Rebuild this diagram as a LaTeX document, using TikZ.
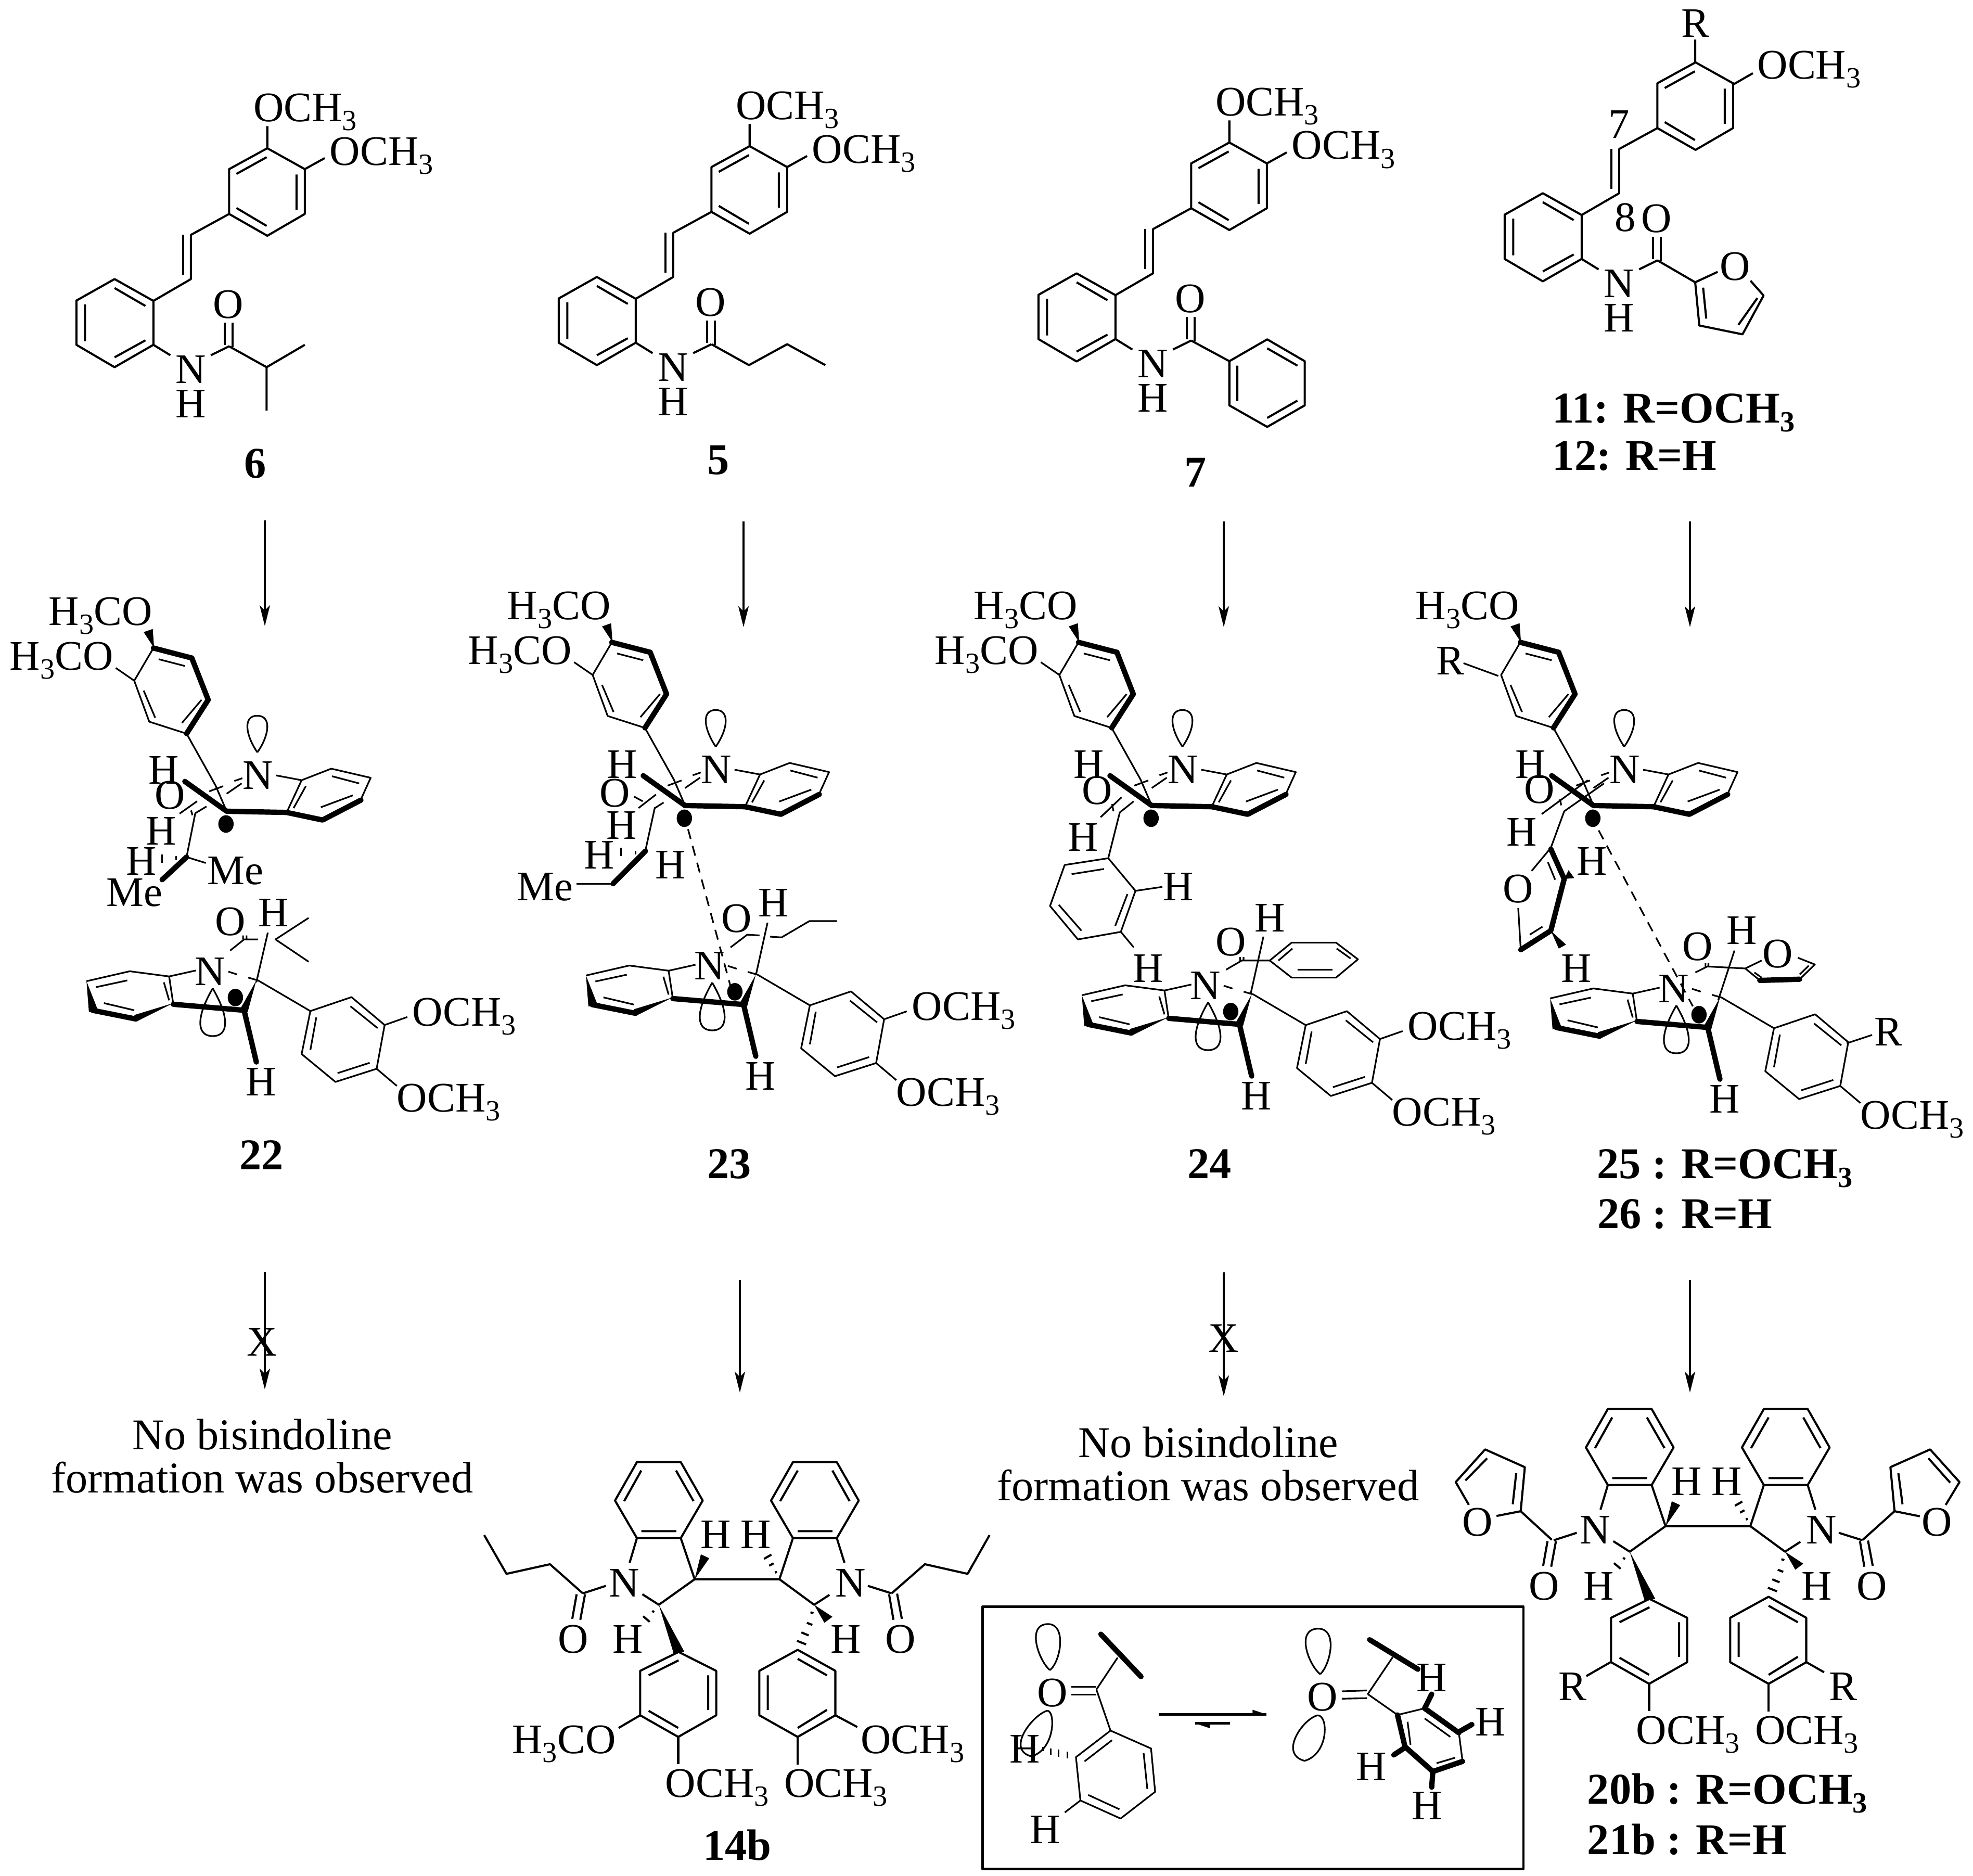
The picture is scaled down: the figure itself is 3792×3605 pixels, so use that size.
\documentclass[tikz,border=0pt]{standalone}
\usepackage{fontspec}
\setmainfont{Liberation Serif}
\usetikzlibrary{arrows.meta}
\newcommand{\three}{\raisebox{-.17cm}{\fontsize{16}{16}\selectfont 3}}
\tikzstyle{every node}=[font=\fontsize{23}{26}\selectfont,inner sep=0pt]
\tikzset{
  za/.style={x=.006378cm,y=-.005740cm},
  zb/.style={x=.006698cm,y=-.007651cm},
  zc/.style={x=.006964cm,y=-.007651cm},
  zd/.style={x=.007018cm,y=-.005770cm},
  ze/.style={x=.007143cm,y=-.003540cm},
  zf/.style={x=.006645cm,y=-.006090cm},
  zg/.style={x=.006645cm,y=-.006061cm},
  thin bond/.style={line width=.9pt},
  bold bond/.style={line width=2.9pt,line cap=round},
  rxn/.style={line width=.95pt,-{Stealth[length=.4cm,width=.2cm,inset=.1cm]}},
  txt/.style={anchor=base west},
  txe/.style={anchor=base east},
  lbl/.style={anchor=base west,font=\fontsize{24}{28}\bfseries\selectfont},
  lbc/.style={anchor=base,font=\fontsize{24}{28}\bfseries\selectfont},
  plain/.style={anchor=base,font=\fontsize{24}{28}\selectfont},
  long dash/.style={thin bond,dash pattern=on 5.5pt off 4pt}
}
% open form: both aryl rings, vinyl, NH and C=O
\newcommand{\stilbene}{
  \draw (805,322) -- (918,392) -- (918,542) -- (805,615) -- (690,542) -- (690,392) -- cycle;
  \draw (712,408) -- (803,352) (893,410) -- (893,528) (712,522) -- (803,582);
  \draw (690,542) -- (575,612) -- (575,760) -- (462,833);
  \draw (551,612) -- (551,745);
  \draw (462,833) -- (345,760) -- (230,832) -- (230,980) -- (345,1055) -- (462,980) -- cycle;
  \draw (345,790) -- (438,850) (256,845) -- (256,968) (345,1022) -- (438,965);
  \node (amN) at (575,1062) {N};
  \node (amH) at (575,1178) {H};
  \node (amO) at (688,845) {O};
  \draw (462,980) -- (513,1015) (635,1015) -- (690,985);
  \draw (677,905) -- (677,980) (700,905) -- (700,987);
}
\newcommand{\dimethoxy}{
  \draw (805,322) -- (805,248) (918,392) -- (978,355);
  \node[txt] (omeA) at (760,232) {OCH\three};
  \node[txt] (omeB) at (990,378) {OCH\three};
}
% upper half of the radical pair
\newcommand{\upperhalf}{
  \fill (442,190) -- (412,150) -- (438,142) -- cycle;
  \node[txe] (upA) at (440,133) {H\three CO};
  \draw[thin bond] (440,190) -- (385,272) -- (428,375) -- (535,405);
  \draw[bold bond] (440,190) -- (550,215) -- (597,320) -- (535,405);
  \draw[thin bond] (455,218) -- (530,235) (578,320) -- (522,378) (412,297) -- (445,365);
  \draw[thin bond] (535,405) -- (618,535) -- (650,600);
  \draw[thin bond] (738,452) .. controls (705,410) and (695,360) .. (738,360) .. controls (780,360) and (772,410) .. (738,452);
  \node (upN) at (740,510) {N};
  \node (upH) at (470,497) {H};
  \draw[thin bond] (792,510) -- (865,522) -- (950,493) -- (1063,516) -- (1035,570);
  \draw[thin bond] (865,522) -- (822,603);
  \draw[bold bond] (530,525) -- (650,600) -- (822,603) -- (925,622) -- (1035,572);
  \draw[thin bond] (877,537) -- (842,592) (952,512) -- (1030,530) (920,590) -- (1012,560);
  \draw[thin bond] (695,517) -- (672,524) (640,537) -- (600,550) (693,530) -- (650,556);
  \fill (648,632) circle[radius=22];
}
% lower half of the radical pair
\newcommand{\lowerhalf}{
  \node (loN) at (603,1003) {N};
  \draw[thin bond] (562,1000) -- (485,1015) -- (372,1002) -- (248,1027);
  \draw[thin bond] (485,1015) -- (497,1085);
  \fill (248,1027) -- (255,1105) -- (280,1098) -- cycle;
  \draw[bold bond] (265,1100) -- (390,1122);
  \fill (497,1082) -- (385,1112) -- (392,1128) -- cycle;
  \draw[bold bond] (497,1085) -- (700,1100) -- (735,1230);
  \draw[thin bond] (470,1030) -- (485,1075) (275,1042) -- (365,1025) (298,1082) -- (385,1100);
  \fill (735,1025) -- (690,1095) -- (710,1105) -- cycle;
  \draw[thin bond] (655,1003) -- (680,1010) (712,1018) -- (740,1025) -- (890,1102);
  \draw[thin bond] (890,1102) -- (1008,1067) -- (1103,1137) -- (1080,1247) -- (962,1280) -- (865,1210) -- cycle;
  \draw[thin bond] (907,1118) -- (890,1200) (1005,1090) -- (1083,1145) (1060,1232) -- (968,1258);
  \draw[thin bond] (610,1045) .. controls (560,1120) and (565,1165) .. (610,1165) .. controls (655,1165) and (660,1120) .. (610,1045);
  \fill (675,1068) circle[radius=22];
  \node (loH) at (748,1280) {H};
  \draw[thin bond] (1080,1247) -- (1138,1290);
  \node[txt] (loB) at (1135,1355) {OCH\three};
}
\newcommand{\lowerome}{
  \draw[thin bond] (385,272) -- (332,240);
  \node[txe] (upB) at (328,245) {H\three CO};
}
\newcommand{\upperome}{
  \draw[thin bond] (1103,1137) -- (1168,1117);
  \node[txt] (loA) at (1180,1140) {OCH\three};
}
% bisindoline skeleton
\newcommand{\bisindoline}{
  \draw (490,190) -- (610,190) -- (670,318) -- (610,443) -- (490,443) -- (430,318) -- cycle;
  \draw (502,218) -- (455,320) (597,218) -- (645,320) (502,420) -- (598,420);
  \draw (917,190) -- (1037,190) -- (1097,318) -- (1037,443) -- (917,443) -- (857,318) -- cycle;
  \draw (930,218) -- (882,320) (1025,218) -- (1072,320) (930,420) -- (1025,420);
  \draw (610,443) -- (648,580) -- (880,580) -- (917,443);
  \draw (490,443) -- (470,525) (1037,443) -- (1058,525);
  \draw (505,630) -- (550,665) -- (648,580) (880,580) -- (975,665) -- (1017,632);
  \node (biNa) at (455,592) {N};
  \node (biNb) at (1075,592) {N};
  \node (biHa) at (706,432) {H};
  \node (biHb) at (815,432) {H};
  \node (biHc) at (465,780) {H};
  \node (biHd) at (1062,780) {H};
  \fill (648,580) -- (665,497) -- (688,510) -- cycle;
  \fill (550,665) -- (590,825) -- (620,822) -- cycle;
  \fill (975,665) -- (1003,725) -- (1025,705) -- cycle;
  \draw (868,558) -- (873,555) (852,535) -- (864,527) (838,512) -- (858,498);
  \draw (532,685) -- (537,690) (507,703) -- (525,722);
  \draw (965,690) -- (973,693) (955,725) -- (970,732) (940,757) -- (960,767) (928,785) -- (953,797);
  \draw (604,822) -- (707,885) -- (707,1033) -- (603,1105) -- (499,1033) -- (499,885) -- cycle;
  \draw (604,850) -- (522,900) (685,900) -- (685,1015) (603,1075) -- (522,1018);
  \draw (930,815) -- (1033,885) -- (1033,1033) -- (930,1105) -- (825,1033) -- (825,885) -- cycle;
  \draw (930,845) -- (1010,900) (848,900) -- (848,1015) (930,1075) -- (1010,1015);
  \draw (603,1105) -- (603,1195) (930,1105) -- (930,1197);
  \node[txt] (biOa) at (565,1305) {OCH\three};
  \node[txt] (biOb) at (890,1305) {OCH\three};
  \draw (405,602) -- (342,627) (1122,602) -- (1187,627);
  \draw (325,630) -- (313,712) (348,630) -- (335,715) (1180,630) -- (1192,715) (1202,628) -- (1215,712);
  \node (biOc) at (315,780) {O};
  \node (biOd) at (1212,780) {O};
}
\begin{document}
\begin{tikzpicture}[x=.01cm,y=-.01cm,line width=1.15pt,line join=round]
\useasboundingbox (0,0) rectangle (3792,3605);

% reaction arrows
\foreach \n/\x/\ya/\yb in {a/509/1000/1203,b/1429/1002/1205,c/2352/1002/1205,d/3248/1002/1205,
    e/509/2444/2670,f/1422/2460/2676,g/2352/2445/2683,h/3248/2460/2676} {
  \coordinate (s\n) at (\x,\ya);
  \coordinate (t\n) at (\x,\yb);
  \draw[rxn] (s\n) -- (t\n);
}
\node (xa) at (504,2579) {X};
\node (xb) at (2352,2572) {X};
\node[plain] (noa) at (504,2785) {No bisindoline};
\node[plain] (nob) at (504,2868) {formation was observed};
\node[plain] (noc) at (2322,2800) {No bisindoline};
\node[plain] (nod) at (2322,2883) {formation was observed};

% compound 6
\begin{scope}[shift={(0,100)},za]
  \stilbene \dimethoxy
  \draw (690,985) -- (803,1055) -- (918,980) (803,1055) -- (803,1200);
  \node[lbc] (six) at (768,1425) {6};
\end{scope}
% compound 5
\begin{scope}[shift={(927,96)},za]
  \stilbene \dimethoxy
  \draw (690,985) -- (803,1055) -- (918,985) -- (1033,1055);
  \node[lbc] (five) at (711,1420) {5};
\end{scope}
% compound 7
\begin{scope}[shift={(1849,89)},za]
  \stilbene \dimethoxy
  \draw (690,985) -- (805,1054);
  \draw (805,1054) -- (919,981) -- (1032,1054) -- (1032,1202) -- (919,1274) -- (805,1202) -- cycle;
  \draw (919,1011) -- (1010,1069) (829,1069) -- (829,1187) (919,1244) -- (1010,1186);
  \node[lbc] (seven) at (703,1475) {7};
\end{scope}
% compound 11, 12
\begin{scope}[shift={(2745,-65)},za]
  \stilbene
\end{scope}
\begin{scope}[shift={(2750,0)},zg]
  \node (rr) at (765,75) {R};
  \draw (765,125) -- (765,198) (875,268) -- (932,232);
  \node[txt] (omeC) at (942,250) {OCH\three};
  \node (sv) at (545,395) {7};
  \node (ei) at (562,690) {8};
  \node (fuO) at (880,845) {O};
  \draw (655,825) -- (765,895) -- (830,862) (925,890) -- (963,937) -- (902,1060) -- (777,1032) -- (765,895);
  \draw (788,912) -- (797,1010) (945,945) -- (890,1030);
  \node[lbl] (eleven) at (349,1340) {11: R=OCH\three};
  \node[lbl] (twelve) at (349,1490) {12: R=H};
\end{scope}

% compound 22
\begin{scope}[shift={(0,1100)},zb]
  \upperhalf \lowerome \lowerhalf \upperome
  \node (o1) at (487,560) {O};
  \node (h1) at (462,650) {H};
  \node (h2) at (405,725) {H};
  \node (me1) at (675,750) {Me};
  \node (me2) at (385,805) {Me};
  \draw[thin bond] (515,606) -- (565,575) (548,598) -- (552,610) (560,605) -- (592,588);
  \draw[thin bond] (560,605) -- (535,715) -- (590,730);
  \draw[bold bond] (535,715) -- (465,772);
  \draw[thin bond] (465,708) -- (465,730) (505,712) -- (505,722);
  \node (o2) at (660,878) {O};
  \node (h3) at (785,855) {H};
  \draw[thin bond] (660,950) -- (700,922) -- (740,922) (697,912) -- (697,922) (707,912) -- (707,922);
  \draw[thin bond] (885,868) -- (790,922) -- (885,978) (768,905) -- (735,1030);
  \node[lbc] (tt) at (750,1500) {22};
\end{scope}
% compound 23
\begin{scope}[shift={(881,1089)},zb]
  \upperhalf \lowerome
\end{scope}
\begin{scope}[shift={(960,1089)},zb]
  \lowerhalf \upperome
\end{scope}
\begin{scope}[shift={(880,1100)},zb]
  \node (o3) at (450,555) {O};
  \node (h4) at (470,635) {H};
  \node (h5) at (405,710) {H};
  \node (h6) at (610,735) {H};
  \node (me3) at (250,790) {Me};
  \draw[thin bond] (518,592) -- (568,558) (505,563) -- (530,575) (565,592) -- (590,578);
  \draw[thin bond] (565,590) -- (538,698);
  \draw[bold bond] (538,700) -- (445,782);
  \draw[thin bond] (445,782) -- (340,782);
  \draw[thin bond] (468,692) -- (468,712) (510,700) -- (510,708);
  \draw[long dash] (660,645) -- (785,1050);
  \node (o4) at (800,870) {O};
  \node (h7) at (905,830) {H};
  \draw[thin bond] (782,942) -- (830,910) -- (865,912) (895,915) -- (928,917) -- (1008,876) -- (1087,876);
  \draw[thin bond] (888,880) -- (855,1010);
  \node[lbc] (tth) at (778,1522) {23};
\end{scope}
% compound 24
\begin{scope}[shift={(1778,1089)},zb]
  \upperhalf \lowerome
\end{scope}
\begin{scope}[shift={(1913,1127)},zb]
  \lowerhalf \upperome
\end{scope}
\begin{scope}[shift={(1750,1100)},zb]
  \node (o5) at (535,548) {O};
  \node (h8) at (495,665) {H};
  \draw[thin bond] (545,615) -- (605,565) (578,582) -- (582,600) (600,603) -- (640,575);
  \draw[thin bond] (600,603) -- (567,718) -- (645,800) -- (603,903) -- (480,922) -- (400,838) -- (442,735) -- (567,718);
  \draw[thin bond] (555,745) -- (462,758) (622,808) -- (587,888) (490,900) -- (425,835);
  \draw[thin bond] (645,800) -- (722,790) (603,903) -- (640,942);
  \node (h9) at (768,790) {H};
  \node (h10) at (682,995) {H};
  \node (o6) at (918,928) {O};
  \node (h11) at (1030,868) {H};
  \draw[thin bond] (905,998) -- (950,975) -- (1030,975) (945,966) -- (945,975) (955,966) -- (955,975);
  \draw[thin bond] (1030,975) -- (1093,930) -- (1220,930) -- (1283,972) -- (1220,1018) -- (1093,1018) -- cycle;
  \draw[thin bond] (1055,975) -- (1095,945) (1110,998) -- (1210,998) (1222,945) -- (1262,970);
  \draw[thin bond] (1012,915) -- (975,1060);
  \node[lbc] (tf) at (857,1522) {24};
\end{scope}
% compound 25, 26
\begin{scope}[shift={(2627,1089)},zb]
  \upperhalf
\end{scope}
\begin{scope}[shift={(2813,1133)},zb]
  \lowerhalf
\end{scope}
\begin{scope}[shift={(2700,1100)},zc]
  \node (r1) at (125,222) {R};
  \draw[thin bond] (162,228) -- (258,260);
  \node (o7) at (372,545) {O};
  \node (h12) at (323,652) {H};
  \node (h13) at (517,725) {H};
  \node (o8) at (313,795) {O};
  \node (h14) at (473,995) {H};
  \draw[thin bond] (378,607) -- (505,522) (440,600) -- (550,530) (428,570) -- (432,585);
  \draw[thin bond] (440,600) -- (403,692) -- (350,750) (313,843) -- (320,948);
  \draw[bold bond] (403,695) -- (440,770) -- (403,900) -- (320,948);
  \draw[thin bond] (395,728) -- (415,772) (345,910) -- (380,890);
  \fill (440,770) -- (468,768) -- (452,748) -- cycle;
  \fill (403,900) -- (445,935) -- (425,945) -- cycle;
  \draw[long dash] (535,648) -- (795,1090);
  \node (o9) at (808,940) {O};
  \node (h15) at (930,900) {H};
  \draw[thin bond] (802,1005) -- (835,990) -- (940,995) -- (985,975) (830,982) -- (830,992) (838,982) -- (838,992);
  \draw[thin bond] (940,995) -- (980,1025) (1090,1022) -- (1132,985) -- (1085,968);
  \draw[bold bond] (980,1025) -- (1090,1022);
  \draw[thin bond] (965,1005) -- (985,1018) (1090,1010) -- (1115,988);
  \node (o10) at (1030,958) {O};
  \draw[thin bond] (910,950) -- (865,1075);
  \node (r2) at (1335,1155) {R};
  \draw[thin bond] (1220,1183) -- (1290,1162);
  \node[lbl] (tfi) at (528,1522) {25 : R=OCH\three};
\end{scope}
\node[lbl] (tsi) at (3068,2360) {26 : R=H};

% compound 14b
\begin{scope}[shift={(880,2700)},zd]
  \bisindoline
  \draw (342,627) -- (252,530) -- (133,562) -- (72,433) (1187,627) -- (1278,530) -- (1395,562) -- (1455,433);
  \draw (499,1033) -- (440,1075) (1033,1033) -- (1093,1072);
  \node[txe] (biOe) at (435,1160) {H\three CO};
  \node[txt] (biOf) at (1100,1160) {OCH\three};
  \node[lbc] (ftb) at (765,1515) {14b};
\end{scope}
% compound 20b, 21b
\begin{scope}[shift={(2746,2598)},zd]
  \bisindoline
\end{scope}
\begin{scope}[shift={(2750,2650)},zf]
  \draw (350,507) -- (260,417) -- (190,432) (110,397) -- (72,325) -- (157,222) -- (272,278) -- (260,417);
  \draw (100,320) -- (163,250) (247,297) -- (237,395);
  \node (fuA) at (135,452) {O};
  \draw (1250,507) -- (1342,417) -- (1415,433) (1490,397) -- (1530,325) -- (1445,222) -- (1330,278) -- (1342,417);
  \draw (1503,327) -- (1440,250) (1353,297) -- (1365,395);
  \node (fuB) at (1465,452) {O};
  \draw (522,892) -- (450,937) (1085,892) -- (1138,925);
  \node (r3) at (410,970) {R};
  \node (r4) at (1193,970) {R};
  \node[lbl] (tzb) at (450,1340) {20b : R=OCH\three};
  \node[lbl] (tob) at (450,1500) {21b : R=H};
\end{scope}

% inset
\node[draw,line width=1.3pt,minimum width=10.39cm,minimum height=5.04cm,anchor=north west] (inset) at (1886,3085) {};
\begin{scope}[shift={(1850,3050)},ze]
  \draw[thin bond] (235,450) .. controls (205,400) and (170,200) .. (230,200) .. controls (280,200) and (265,400) .. (235,450);
  \node (inO) at (242,572) {O};
  \draw[thin bond] (293,540) -- (360,540) (293,583) -- (360,583);
  \draw[thin bond] (360,555) -- (417,382) (360,555) -- (398,778);
  \draw[bold bond] (372,255) -- (480,485);
  \draw[thin bond] (398,778) -- (507,875) -- (518,1110) -- (425,1255) -- (317,1157) -- (305,922) -- cycle;
  \draw[thin bond] (402,830) -- (328,945) (487,900) -- (497,1095) (338,1127) -- (422,1205);
  \draw[thin bond] (228,670) .. controls (190,690) and (115,880) .. (185,918) .. controls (250,880) and (250,670) .. (228,670);
  \node (inH) at (167,878) {H};
  \draw[thin bond] (217,868) -- (217,888) (237,875) -- (237,910) (258,882) -- (258,920) (282,893) -- (282,930);
  \draw[thin bond] (317,1157) -- (275,1222);
  \node (inHb) at (222,1315) {H};
  \coordinate (eqa) at (528,690);
  \coordinate (eqb) at (818,690);
  \coordinate (eqc) at (720,738);
  \coordinate (eqd) at (625,738);
  \draw[line width=1.2pt] (eqa) -- (eqb);
  \fill (780,665) -- (eqb) -- (780,690) -- cycle;
  \draw[line width=1.2pt] (eqc) -- (eqd);
  \fill (eqd) -- (665,765) -- (665,738) -- cycle;
  \draw[thin bond] (962,472) .. controls (930,420) and (895,225) .. (957,225) .. controls (1010,225) and (990,420) .. (962,472);
  \node (inOb) at (968,597) {O};
  \draw[thin bond] (1020,565) -- (1088,560) (1020,605) -- (1088,602);
  \draw[thin bond] (1090,580) -- (1157,380) (1090,580) -- (1170,693) -- (1243,657);
  \draw[bold bond] (1095,285) -- (1225,445);
  \draw[bold bond] (1243,657) -- (1335,790) (1345,945) -- (1265,1000) -- (1190,865) -- (1170,693);
  \draw[thin bond] (1335,790) -- (1345,945);
  \draw[thin bond] (1243,712) -- (1312,812) (1197,730) -- (1205,855) (1275,955) -- (1325,925);
  \draw[bold bond] (1243,657) -- (1262,580) (1335,785) -- (1370,745) (1190,870) -- (1160,910) (1265,1000) -- (1262,1085);
  \node (inHc) at (1262,490) {H};
  \node (inHd) at (1420,730) {H};
  \node (inHe) at (1100,975) {H};
  \node (inHf) at (1250,1185) {H};
  \draw[thin bond] (955,695) .. controls (915,715) and (850,905) .. (920,942) .. controls (985,905) and (985,695) .. (955,695);
\end{scope}
\end{tikzpicture}
\end{document}
